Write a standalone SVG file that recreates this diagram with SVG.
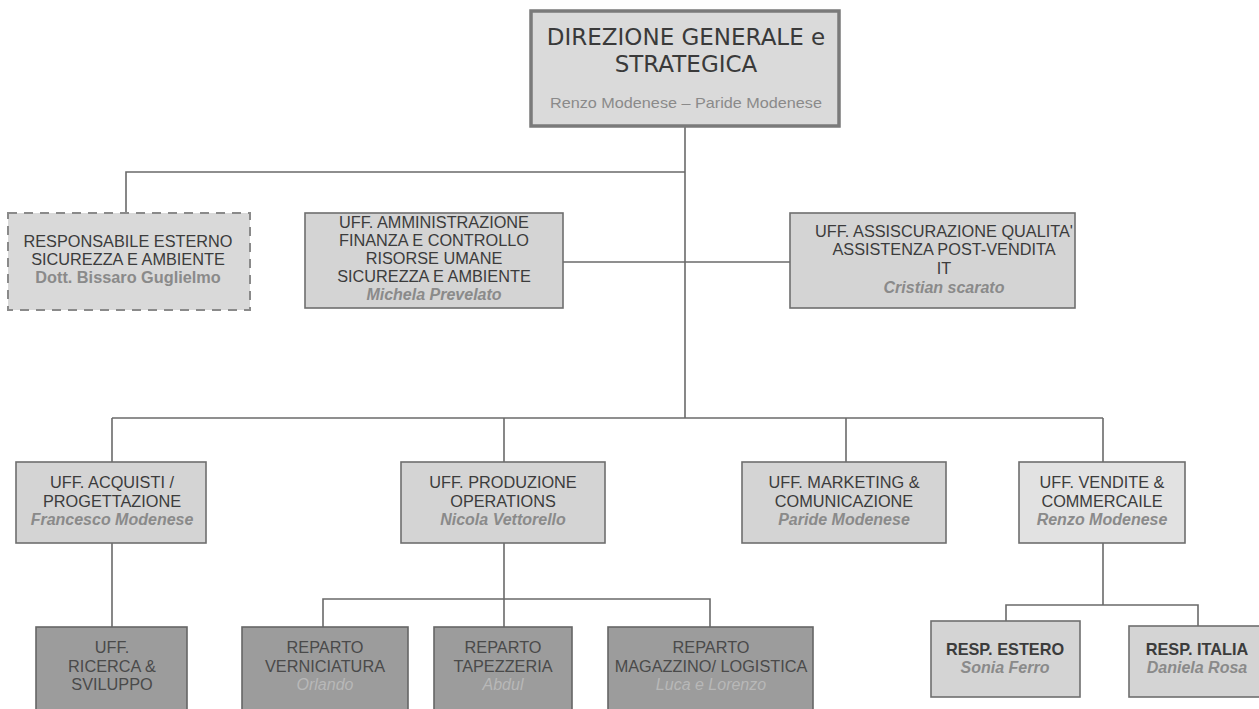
<svg xmlns="http://www.w3.org/2000/svg" width="1259" height="709" viewBox="0 0 1259 709">
  <style>
    .box { fill: #d4d4d4; stroke: #6e6e6e; stroke-width: 1.6; }
    .light { fill: #e2e2e2; }
    .dark { fill: #9c9c9c; stroke: #666; }
    .dashed { fill: #d9d9d9; stroke: #8a8a8a; stroke-width: 2; stroke-dasharray: 9 7; }
    .top { fill: #dadada; stroke: #7a7a7a; stroke-width: 3.5; }
    text { font-family: "Liberation Sans", Arial, sans-serif; text-anchor: middle; }
    .t { font-size: 16.3px; fill: #3c3c3c; }
    .b { font-weight: bold; }
    .n { font-size: 16px; fill: #8a8a8a; font-style: italic; font-weight: bold; }
    .dt { font-size: 16.3px; fill: #4a4a4a; }
    .dn { font-size: 16px; fill: #b8b8b8; font-style: italic; }
    .links path { fill: none; stroke: #6a6a6a; stroke-width: 1.6; }
  </style>
  <rect width="1259" height="709" fill="#ffffff"/>

  <g class="links">
    <path d="M685 127 V418"/>
    <path d="M685 172 H126 V213"/>
    <path d="M563 262 H790"/>
    <path d="M112 418 H1103"/>
    <path d="M112 418 V462"/>
    <path d="M504 418 V462"/>
    <path d="M846 418 V462"/>
    <path d="M1103 418 V462"/>
    <path d="M112 543 V627"/>
    <path d="M504 543 V627"/>
    <path d="M323 627 V599 H710 V627"/>
    <path d="M1103 543 V605"/>
    <path d="M1006 621 V605 H1198 V626"/>
  </g>

  <g id="direzione">
    <rect class="top" x="531" y="11" width="308" height="115"/>
    <text x="686" y="45" style="font-family:'DejaVu Sans',Verdana,sans-serif;font-size:23px;fill:#3a3a3a">DIREZIONE GENERALE e</text>
    <text x="686" y="72" style="font-family:'DejaVu Sans',Verdana,sans-serif;font-size:23px;fill:#3a3a3a">STRATEGICA</text>
    <text x="686" y="108" textLength="272" lengthAdjust="spacingAndGlyphs" style="font-size:15px;fill:#8a8a8a">Renzo Modenese – Paride Modenese</text>
  </g>

  <g id="resp-esterno">
    <rect class="dashed" x="8" y="213" width="242" height="97"/>
    <text class="t" x="128" y="247">RESPONSABILE ESTERNO</text>
    <text class="t" x="128" y="265">SICUREZZA E AMBIENTE</text>
    <text class="t b" x="128" y="283" style="fill:#8a8a8a">Dott. Bissaro Guglielmo</text>
  </g>

  <g id="amministrazione">
    <rect class="box" x="305" y="213" width="258" height="95"/>
    <text class="t" x="434" y="228">UFF. AMMINISTRAZIONE</text>
    <text class="t" x="434" y="246">FINANZA E CONTROLLO</text>
    <text class="t" x="434" y="264">RISORSE UMANE</text>
    <text class="t" x="434" y="282">SICUREZZA E AMBIENTE</text>
    <text class="n" x="434" y="300">Michela Prevelato</text>
  </g>

  <g id="qualita">
    <rect class="box" x="790" y="213" width="285" height="95"/>
    <text class="t" x="944" y="237">UFF. ASSISCURAZIONE QUALITA'</text>
    <text class="t" x="944" y="255">ASSISTENZA POST-VENDITA</text>
    <text class="t" x="944" y="274">IT</text>
    <text class="n" x="944" y="293">Cristian scarato</text>
  </g>

  <g id="acquisti">
    <rect class="box" x="16" y="462" width="190" height="81"/>
    <text class="t" x="112" y="488">UFF. ACQUISTI /</text>
    <text class="t" x="112" y="507">PROGETTAZIONE</text>
    <text class="n" x="112" y="525">Francesco Modenese</text>
  </g>

  <g id="produzione">
    <rect class="box" x="401" y="462" width="204" height="81"/>
    <text class="t" x="503" y="488">UFF. PRODUZIONE</text>
    <text class="t" x="503" y="507">OPERATIONS</text>
    <text class="n" x="503" y="525">Nicola Vettorello</text>
  </g>

  <g id="marketing">
    <rect class="box" x="742" y="462" width="204" height="81"/>
    <text class="t" x="844" y="488">UFF. MARKETING &amp;</text>
    <text class="t" x="844" y="507">COMUNICAZIONE</text>
    <text class="n" x="844" y="525">Paride Modenese</text>
  </g>

  <g id="vendite">
    <rect class="box light" x="1019" y="462" width="166" height="81"/>
    <text class="t" x="1102" y="488">UFF. VENDITE &amp;</text>
    <text class="t" x="1102" y="507">COMMERCAILE</text>
    <text class="n" x="1102" y="525">Renzo Modenese</text>
  </g>

  <g id="ricerca">
    <rect class="box dark" x="36" y="627" width="151" height="90"/>
    <text class="dt" x="112" y="653">UFF.</text>
    <text class="dt" x="112" y="672">RICERCA &amp;</text>
    <text class="dt" x="112" y="690">SVILUPPO</text>
  </g>

  <g id="verniciatura">
    <rect class="box dark" x="242" y="627" width="166" height="90"/>
    <text class="dt" x="325" y="653">REPARTO</text>
    <text class="dt" x="325" y="672">VERNICIATURA</text>
    <text class="dn" x="325" y="690">Orlando</text>
  </g>

  <g id="tapezzeria">
    <rect class="box dark" x="434" y="627" width="138" height="90"/>
    <text class="dt" x="503" y="653">REPARTO</text>
    <text class="dt" x="503" y="672">TAPEZZERIA</text>
    <text class="dn" x="503" y="690">Abdul</text>
  </g>

  <g id="magazzino">
    <rect class="box dark" x="608" y="627" width="205" height="90"/>
    <text class="dt" x="711" y="653">REPARTO</text>
    <text class="dt" x="711" y="672">MAGAZZINO/ LOGISTICA</text>
    <text class="dn" x="711" y="690">Luca e Lorenzo</text>
  </g>

  <g id="resp-estero">
    <rect class="box" x="931" y="621" width="149" height="76"/>
    <text class="t b" x="1005" y="655">RESP. ESTERO</text>
    <text class="n" x="1005" y="673">Sonia Ferro</text>
  </g>

  <g id="resp-italia">
    <rect class="box" x="1129" y="626" width="140" height="71"/>
    <text class="t b" x="1197" y="655">RESP. ITALIA</text>
    <text class="n" x="1197" y="673">Daniela Rosa</text>
  </g>
</svg>
